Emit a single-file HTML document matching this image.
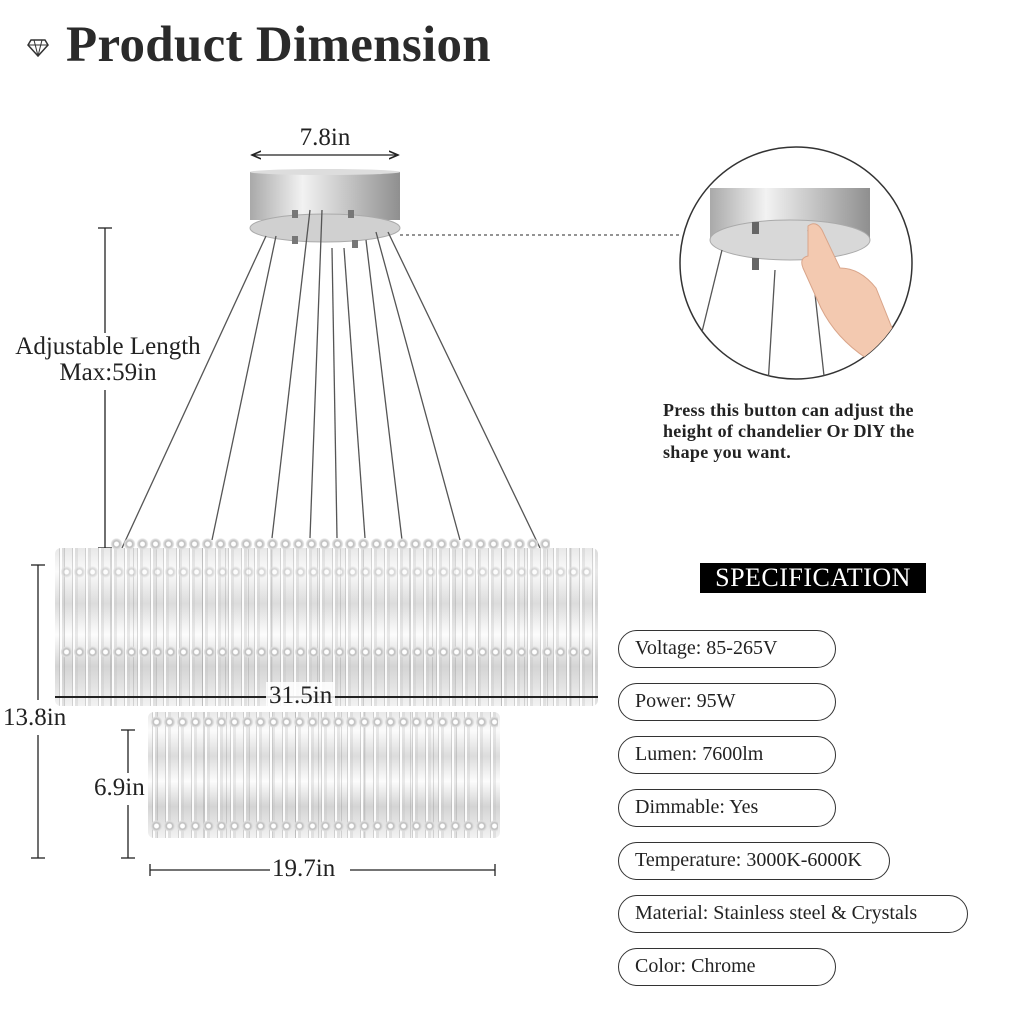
<!DOCTYPE html>
<html><head><meta charset="utf-8"><style>
*{margin:0;padding:0;box-sizing:border-box}
body{width:1024px;height:1024px;background:#fff;position:relative;overflow:hidden;font-family:"Liberation Serif",serif;color:#222}
.abs{position:absolute}
.title{left:66px;top:16px;font-size:51px;font-weight:bold;color:#2a2a2a;letter-spacing:0.3px}
.lbl{font-size:25px;color:#222;white-space:nowrap}
.pill{position:absolute;left:618px;width:218px;height:38px;border:1.5px solid #333;border-radius:19px;font-size:20px;line-height:35px;padding-left:16px;color:#222;white-space:nowrap}
.ring{position:absolute;border-radius:6px;
background:
repeating-linear-gradient(90deg,rgba(255,255,255,0) 0 4px,rgba(150,150,150,.35) 4px 5px,rgba(255,255,255,.9) 5px 7px,rgba(190,190,190,.3) 7px 10px,rgba(255,255,255,0) 10px 13px),
repeating-linear-gradient(90deg,rgba(255,255,255,0) 0 9px,rgba(120,120,120,.25) 9px 10px,rgba(255,255,255,0) 10px 23px),
linear-gradient(180deg,#e8e8e8 0%,#fbfbfb 15%,#dcdcdc 35%,#fcfcfc 55%,#d4d4d4 75%,#f2f2f2 100%);}
.beads{position:absolute;height:12px;background:radial-gradient(circle at 50% 50%,#fff 0 2px,#bbb 3px,#e0e0e0 5px,transparent 6px);background-size:13px 12px}
</style></head><body>
<svg class="abs" style="left:27px;top:38px" width="22" height="20" viewBox="0 0 22 20"><path d="M4 2h14l3 5-10 11L1 7z" fill="none" stroke="#333" stroke-width="1.5"/><path d="M1 7h20M7 2l4 16M15 2l-4 16" stroke="#333" stroke-width="1"/></svg>
<div class="abs title">Product Dimension</div>

<svg class="abs" style="left:0;top:0" width="1024" height="1024">
<defs>
<linearGradient id="cg" x1="0" x2="1"><stop offset="0" stop-color="#a9a9a9"/><stop offset=".35" stop-color="#f2f2f2"/><stop offset=".7" stop-color="#bdbdbd"/><stop offset="1" stop-color="#8f8f8f"/></linearGradient>
<marker id="ar" markerWidth="8" markerHeight="8" refX="7" refY="4" orient="auto-start-reverse"><path d="M0 1L7 4L0 7" fill="none" stroke="#222" stroke-width="1.2"/></marker>
<clipPath id="cc"><circle cx="796" cy="263" r="116"/></clipPath>
</defs>
<rect x="250" y="172" width="150" height="48" fill="url(#cg)"/>
<ellipse cx="325" cy="228" rx="75" ry="14" fill="#d0d0d0" stroke="#aaa"/>
<ellipse cx="325" cy="172" rx="75" ry="3" fill="#ddd"/>
<g fill="#777"><rect x="292" y="210" width="6" height="8"/><rect x="348" y="210" width="6" height="8"/><rect x="292" y="236" width="6" height="8"/><rect x="352" y="240" width="6" height="8"/></g>
<g stroke="#555" stroke-width="1.3">
<line x1="266" y1="236" x2="122" y2="548"/><line x1="276" y1="236" x2="212" y2="540"/>
<line x1="310" y1="210" x2="272" y2="538"/><line x1="322" y1="210" x2="310" y2="538"/>
<line x1="332" y1="248" x2="337" y2="538"/><line x1="344" y1="248" x2="365" y2="538"/>
<line x1="366" y1="240" x2="402" y2="540"/><line x1="376" y1="232" x2="460" y2="540"/>
<line x1="388" y1="232" x2="540" y2="548"/></g>
<g stroke="#222" stroke-width="1.3" fill="none">
<line x1="252" y1="155" x2="398" y2="155" marker-start="url(#ar)" marker-end="url(#ar)"/>
<line x1="105" y1="228" x2="105" y2="333"/><line x1="105" y1="390" x2="105" y2="548"/>
<line x1="98" y1="228" x2="112" y2="228"/><line x1="98" y1="548" x2="112" y2="548"/>
<line x1="38" y1="565" x2="38" y2="700"/><line x1="38" y1="735" x2="38" y2="858"/>
<line x1="31" y1="565" x2="45" y2="565"/><line x1="31" y1="858" x2="45" y2="858"/>
<line x1="128" y1="730" x2="128" y2="773"/><line x1="128" y1="805" x2="128" y2="858"/>
<line x1="121" y1="730" x2="135" y2="730"/><line x1="121" y1="858" x2="135" y2="858"/>
<line x1="150" y1="870" x2="270" y2="870"/><line x1="350" y1="870" x2="495" y2="870"/>
<line x1="150" y1="864" x2="150" y2="876"/><line x1="495" y1="864" x2="495" y2="876"/>
<line x1="400" y1="235" x2="680" y2="235" stroke-dasharray="3 3" stroke="#555"/>
</g>
<circle cx="796" cy="263" r="116" fill="#fff" stroke="#333" stroke-width="1.5"/>
<g clip-path="url(#cc)">
<rect x="710" y="188" width="160" height="50" fill="url(#cg)"/>
<ellipse cx="790" cy="240" rx="80" ry="20" fill="#d8d8d8" stroke="#aaa"/>
<g fill="#666"><rect x="752" y="222" width="7" height="12"/><rect x="752" y="258" width="7" height="12"/><rect x="826" y="256" width="7" height="12"/></g>
<g stroke="#555" stroke-width="1.3"><line x1="722" y1="250" x2="700" y2="340"/><line x1="775" y1="270" x2="768" y2="385"/><line x1="808" y1="230" x2="825" y2="385"/></g>
<path d="M808 226 q8-6 14 4 l18 38 q20 0 36 20 l20 50 l-30 20 q-30-20-45-50 l-18-40 q-4-10 5-12z" fill="#f3c9b0" stroke="#d9a58a"/>
</g>
</svg>

<div class="abs lbl" style="left:225px;top:124px;width:200px;text-align:center">7.8in</div>
<div class="abs lbl" style="left:0px;top:334px;width:216px;text-align:center;line-height:26px">Adjustable Length<br>Max:59in</div>

<div class="ring" style="left:148px;top:712px;width:352px;height:126px"></div>
<div class="beads" style="left:150px;top:820px;width:348px"></div>
<div class="beads" style="left:150px;top:716px;width:348px"></div>
<div class="ring" style="left:55px;top:548px;width:543px;height:158px"></div>
<div class="beads" style="left:110px;top:538px;width:440px"></div>
<div class="beads" style="left:60px;top:646px;width:533px"></div>
<div class="beads" style="left:60px;top:566px;width:533px;opacity:.6"></div>
<div class="abs" style="left:55px;top:696px;width:543px;height:1.5px;background:#222"></div>
<div class="abs lbl" style="left:266px;top:682px;background:rgba(255,255,255,.85);padding:0 3px">31.5in</div>
<div class="abs lbl" style="left:3px;top:704px">13.8in</div>
<div class="abs lbl" style="left:94px;top:774px">6.9in</div>
<div class="abs lbl" style="left:272px;top:855px">19.7in</div>

<div class="abs" style="left:663px;top:400px;font-size:18px;font-weight:bold;line-height:21px;letter-spacing:0.3px;white-space:nowrap">Press this button can adjust the<br>height of chandelier Or DlY the<br>shape you want.</div>

<div class="abs" style="left:700px;top:563px;width:226px;height:30px;background:#000;color:#fff;font-size:26px;line-height:30px;text-align:center;letter-spacing:0.5px">SPECIFICATION</div>
<div class="pill" style="top:630px">Voltage: 85-265V</div>
<div class="pill" style="top:683px">Power: 95W</div>
<div class="pill" style="top:736px">Lumen: 7600lm</div>
<div class="pill" style="top:789px">Dimmable: Yes</div>
<div class="pill" style="top:842px;width:272px">Temperature: 3000K-6000K</div>
<div class="pill" style="top:895px;width:350px">Material: Stainless steel &amp; Crystals</div>
<div class="pill" style="top:948px">Color: Chrome</div>
</body></html>
